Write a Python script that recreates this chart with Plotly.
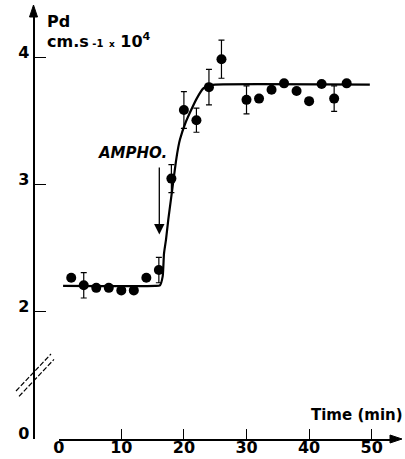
import plotly.graph_objects as go

# ---- data ----
time_min = [2, 4, 6, 8, 10, 12, 14, 16, 18, 20, 22, 24, 26, 30, 32, 34, 36, 38, 40, 42, 44, 46]
pd_vals = [2.27, 2.21, 2.19, 2.19, 2.17, 2.17, 2.27, 2.33, 3.05, 3.59, 3.51, 3.77, 3.99,
           3.67, 3.68, 3.75, 3.80, 3.74, 3.66, 3.795, 3.68, 3.80]
pd_err = [None, 0.10, None, None, None, None, None, 0.10, 0.11, 0.145, 0.095, 0.14, 0.15,
          0.11, None, None, None, None, None, None, 0.10, None]

fit_time = [0.7, 15.4, 16.17, 16.61, 16.82, 17.14, 17.51, 17.94, 18.31, 18.74, 19.11, 19.38,
            20.18, 20.97, 22.04, 23.10, 23.90, 24.97, 49.7]
fit_pd = [2.205, 2.205, 2.21, 2.28, 2.46, 2.57, 2.73, 2.89, 3.03, 3.19, 3.30, 3.36,
          3.48, 3.57, 3.68, 3.76, 3.78, 3.79, 3.79]

x_tick_vals = [0, 10, 20, 30, 40, 50]
y_tick_vals = [1.0, 2, 3, 4]       # broken axis: the "0" sits at the bottom of the range
y_tick_text = ["0", "2", "3", "4"]

ampho_time = 16.07
ampho_arrow_top = 3.15
ampho_arrow_tip = 2.61

W, H = 405, 459
FONT = "DejaVu Sans"


def px(x):
    return x / W


def py(y):
    return 1 - y / H


fig = go.Figure()

# fitted curve
fig.add_trace(go.Scatter(x=fit_time, y=fit_pd, mode="lines",
                         line=dict(color="black", width=2.2, shape="spline", smoothing=0.5),
                         hoverinfo="skip", showlegend=False))

# error bars (only for points that have one)
ex = [t for t, e in zip(time_min, pd_err) if e is not None]
ey = [v for v, e in zip(pd_vals, pd_err) if e is not None]
ee = [e for e in pd_err if e is not None]
fig.add_trace(go.Scatter(x=ex, y=ey, mode="markers",
                         marker=dict(size=1, color="rgba(0,0,0,0)"),
                         error_y=dict(type="data", array=ee, visible=True, color="black",
                                      thickness=1.2, width=3),
                         showlegend=False))

# data points
fig.add_trace(go.Scatter(x=time_min, y=pd_vals, mode="markers",
                         marker=dict(size=10, color="black"),
                         showlegend=False))

fig.update_layout(
    width=W, height=H,
    margin=dict(l=0, r=0, t=0, b=0),
    paper_bgcolor="white", plot_bgcolor="white",
    font=dict(family=FONT, color="black"),
    xaxis=dict(domain=[58.7 / W, 395 / W], range=[0, 53.72],
               showgrid=False, zeroline=False, showline=True, linecolor="black", linewidth=2,
               ticks="inside", ticklen=10, tickwidth=1.3, tickcolor="black",
               tickvals=x_tick_vals, tickfont=dict(size=16, family=FONT, weight="bold"),
               ticklabelstandoff=-7, automargin=False),
    yaxis=dict(domain=[(H - 439) / H, (H - 14) / H], range=[1.0, 4.346],
               anchor="free", position=33.5 / W,
               showgrid=False, zeroline=False, showline=True, linecolor="black", linewidth=2,
               ticks="inside", ticklen=11, tickwidth=1.3, tickcolor="black",
               tickvals=y_tick_vals, ticktext=y_tick_text, ticklabelshift=-6,
               tickfont=dict(size=16, family=FONT, weight="bold"),
               automargin=False),
)

ann = []
# AMPHO arrow
ann.append(dict(x=ampho_time, y=ampho_arrow_tip, xref="x", yref="y",
                ax=ampho_time, ay=ampho_arrow_top, axref="x", ayref="y",
                showarrow=True, arrowhead=2, arrowsize=1.6, arrowwidth=1.3, arrowcolor="black", text=""))
ann.append(dict(x=px(132.5), y=py(153), xref="paper", yref="paper", showarrow=False,
                xanchor="center", yanchor="middle",
                text="<b><i>AMPHO.</i></b>", font=dict(size=15, family=FONT)))
# axis labels
ann.append(dict(x=px(45), y=py(21.5), xref="paper", yref="paper", showarrow=False,
                xanchor="left", yanchor="middle", text="<b>Pd</b>", font=dict(size=16, family=FONT)))
ann.append(dict(x=px(45), y=py(41), xref="paper", yref="paper", showarrow=False,
                xanchor="left", yanchor="middle",
                text="<b>cm.s<span style='font-size:10px'> -1</span> <span style='font-size:9px'>x</span> 10<sup>4</sup></b>",
                font=dict(size=16, family=FONT)))
ann.append(dict(x=px(357), y=py(415), xref="paper", yref="paper", showarrow=False,
                xanchor="center", yanchor="middle", text="<b>Time (min)</b>", font=dict(size=15, family=FONT)))
fig.update_layout(annotations=ann)

shapes = []
# axis arrowheads (paper-pixel triangles)
shapes.append(dict(type="path", xref="paper", yref="paper",
                   path=f"M {px(33.5)},{py(5)} L {px(29.5)},{py(17)} L {px(37.5)},{py(17)} Z",
                   fillcolor="black", line=dict(color="black", width=1)))
shapes.append(dict(type="path", xref="paper", yref="paper",
                   path=f"M {px(402)},{py(439)} L {px(390)},{py(435)} L {px(390)},{py(443)} Z",
                   fillcolor="black", line=dict(color="black", width=1)))
# axis break marks
for dx in (0, 3):
    shapes.append(dict(type="line", xref="paper", yref="paper",
                       x0=px(16 + dx), y0=py(391 + dx * 1.8), x1=px(51 + dx), y1=py(354 + dx * 1.8),
                       line=dict(color="black", width=1.2, dash="5px,2px")))
fig.update_layout(shapes=shapes)

fig.write_html("out.html")
